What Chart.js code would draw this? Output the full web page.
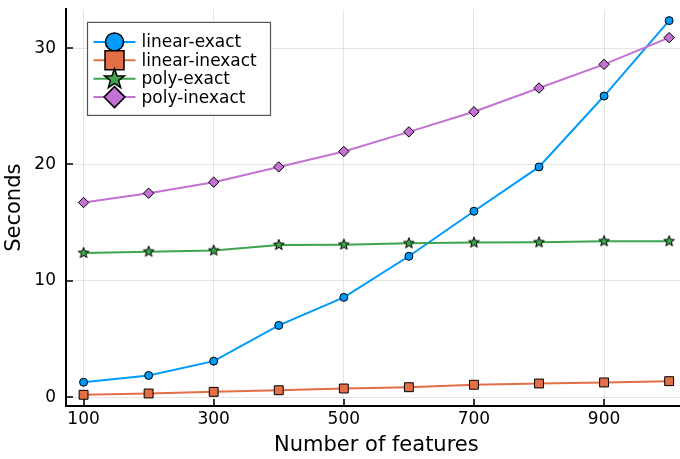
<!DOCTYPE html>
<html>
<head>
<meta charset="utf-8">
<script src="https://cdn.jsdelivr.net/npm/chart.js@4/dist/chart.umd.min.js"></script>
<style>
  html, body { margin: 0; padding: 0; background: #fff; }
  #wrap { width: 680px; height: 459px; overflow: hidden; position: relative; }
  canvas { display: block; }
</style>
</head>
<body>
<div id="wrap"><canvas id="chart" width="694" height="459"></canvas></div>
<script>
// Timing benchmark: seconds vs number of features
const features = [100, 200, 300, 400, 500, 600, 700, 800, 900, 1000];
const linearExact   = [1.29, 1.87, 3.10, 6.17, 8.58, 12.11, 15.98, 19.79, 25.88, 32.36];
const linearInexact = [0.21, 0.32, 0.46, 0.60, 0.75, 0.86, 1.07, 1.18, 1.27, 1.38];
const polyExact     = [12.39, 12.51, 12.60, 13.08, 13.11, 13.23, 13.29, 13.31, 13.40, 13.40];
const polyInexact   = [16.73, 17.53, 18.48, 19.79, 21.12, 22.80, 24.53, 26.57, 28.60, 30.90];
const seriesNames   = ['linear-exact', 'linear-inexact', 'poly-exact', 'poly-inexact'];
const xTicks = [100, 300, 500, 700, 900];
const yTicks = [0, 10, 20, 30];

const colors = ['#009AFA', '#E36F47', '#3EA44E', '#C371D2'];
const FONT = '"DejaVu Sans", sans-serif';
Chart.defaults.font.family = FONT;
Chart.defaults.color = '#000';

// Filled five-point star marker
function starPath(ctx, cx, cy, R, r) {
  ctx.beginPath();
  for (let i = 0; i < 10; i++) {
    const rad = (i % 2 === 0) ? R : r;
    const a = -Math.PI / 2 + i * Math.PI / 5;
    const px = cx + rad * Math.cos(a), py = cy + rad * Math.sin(a);
    if (i === 0) ctx.moveTo(px, py); else ctx.lineTo(px, py);
  }
  ctx.closePath();
}
function makeStar(size, R, r, fill) {
  const c = document.createElement('canvas');
  c.width = size; c.height = size;
  const g = c.getContext('2d');
  starPath(g, size / 2, size / 2, R, r);
  g.fillStyle = fill; g.fill();
  g.lineWidth = 1; g.strokeStyle = '#000'; g.stroke();
  return c;
}
const starSmall = makeStar(14, 5.6, 2.4, colors[2]);

// Axis range with 3% padding on each side
function padRange(vals) {
  const lo = Math.min(...vals), hi = Math.max(...vals), d = (hi - lo) * 0.03;
  return [lo - d, hi + d];
}
const [xMin, xMax] = padRange(features);
const [yMin, yMax] = padRange([].concat(linearExact, linearInexact, polyExact, polyInexact));

const seriesValues = [linearExact, linearInexact, polyExact, polyInexact];
const pointStyles = ['circle', 'rect', starSmall, 'rectRot'];
const pointRadii = [4, 6.3, 5, 5.2];

const datasets = seriesValues.map((vals, i) => ({
  label: seriesNames[i],
  data: features.map((f, j) => ({ x: f, y: vals[j] })),
  borderColor: colors[i],
  backgroundColor: colors[i],
  borderWidth: 2,
  pointStyle: pointStyles[i],
  pointRadius: pointRadii[i],
  pointBorderColor: '#000',
  pointBorderWidth: 1,
  pointBackgroundColor: colors[i],
  tension: 0,
  order: 4 - i
}));

// Short inward tick marks on the axes
const innerTicks = {
  id: 'innerTicks',
  beforeDatasetsDraw(chart) {
    const { ctx, chartArea: a, scales } = chart;
    ctx.save();
    ctx.strokeStyle = '#000';
    ctx.lineWidth = 1.6;
    ctx.beginPath();
    xTicks.forEach(v => {
      const px = Math.round(scales.x.getPixelForValue(v));
      ctx.moveTo(px, a.bottom); ctx.lineTo(px, a.bottom - 7);
    });
    yTicks.forEach(v => {
      const py = Math.round(scales.y.getPixelForValue(v));
      ctx.moveTo(a.left, py); ctx.lineTo(a.left + 7, py);
    });
    ctx.stroke();
    ctx.restore();
  }
};

// Legend box drawn inside the plot area, top-left
function legendMarker(ctx, i, x, y) {
  ctx.save();
  ctx.fillStyle = colors[i];
  ctx.strokeStyle = '#000';
  ctx.lineWidth = 1.5;
  ctx.beginPath();
  if (i === 0) {
    ctx.arc(x, y, 9, 0, Math.PI * 2);
  } else if (i === 1) {
    ctx.rect(x - 9.5, y - 9.5, 19, 19);
  } else if (i === 2) {
    starPath(ctx, x, y + 0.5, 10.5, 4.3);
  } else {
    ctx.moveTo(x, y - 10.5); ctx.lineTo(x + 10.5, y);
    ctx.lineTo(x, y + 10.5); ctx.lineTo(x - 10.5, y);
    ctx.closePath();
  }
  ctx.fill(); ctx.stroke();
  ctx.restore();
}
const insideLegend = {
  id: 'insideLegend',
  afterDraw(chart) {
    const { ctx, chartArea: a } = chart;
    const bx = a.left + 21.5, by = a.top + 13, bw = 183, bh = 93;
    ctx.save();
    ctx.fillStyle = '#fff';
    ctx.fillRect(bx, by, bw, bh);
    ctx.strokeStyle = '#555';
    ctx.lineWidth = 1.2;
    ctx.strokeRect(bx, by, bw, bh);
    ctx.font = '17px ' + FONT;
    ctx.textBaseline = 'middle';
    ctx.textAlign = 'left';
    seriesNames.forEach((name, i) => {
      const y = by + 19.5 + i * 18.4;
      ctx.strokeStyle = colors[i];
      ctx.lineWidth = 2;
      ctx.beginPath();
      ctx.moveTo(bx + 6, y); ctx.lineTo(bx + 48, y);
      ctx.stroke();
      legendMarker(ctx, i, bx + 27, y);
      ctx.fillStyle = '#000';
      ctx.fillText(name, bx + 54, y + 1);
    });
    ctx.restore();
  }
};

new Chart(document.getElementById('chart'), {
  type: 'line',
  data: { datasets },
  plugins: [innerTicks, insideLegend],
  options: {
    responsive: false,
    animation: false,
    devicePixelRatio: 1,
    layout: { padding: 0 },
    plugins: { legend: { display: false }, tooltip: { enabled: false } },
    scales: {
      x: {
        type: 'linear',
        min: xMin, max: xMax,
        afterBuildTicks: s => { s.ticks = xTicks.map(v => ({ value: v })); },
        afterFit: s => { s.height = 53; },
        grid: { color: 'rgba(0,0,0,0.1)', lineWidth: 1, drawTicks: false },
        border: { display: true, color: '#000', width: 2 },
        ticks: { font: { size: 17 }, color: '#000', padding: 3, maxRotation: 0 },
        title: { display: true, text: 'Number of features', font: { size: 21 }, padding: { top: 0, bottom: 1 } }
      },
      y: {
        type: 'linear',
        min: yMin, max: yMax,
        afterBuildTicks: s => { s.ticks = yTicks.map(v => ({ value: v })); },
        afterFit: s => { s.width = 66; s.paddingTop = 9.4; s.paddingBottom = 0; },
        grid: { color: 'rgba(0,0,0,0.1)', lineWidth: 1, drawTicks: false },
        border: { display: true, color: '#000', width: 2 },
        ticks: { font: { size: 17 }, color: '#000', padding: 10 },
        title: { display: true, text: 'Seconds', font: { size: 21 }, padding: { top: 2, bottom: 0 } }
      }
    }
  }
});
</script>
</body>
</html>
